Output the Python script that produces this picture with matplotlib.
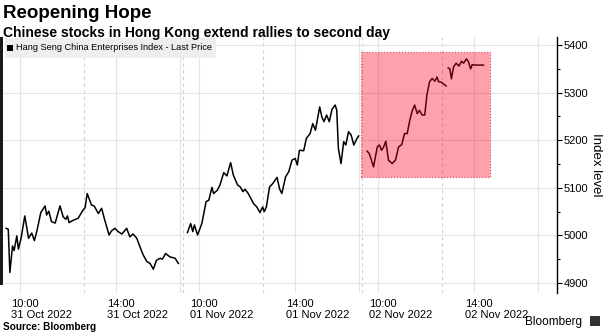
import matplotlib
matplotlib.use("Agg")
import matplotlib.pyplot as plt
import numpy as np
from matplotlib.patches import Rectangle
from matplotlib.transforms import ScaledTranslation

plt.rcParams['font.family'] = ['Liberation Sans', 'DejaVu Sans']

# session minutes (lunch removed) and index level, Hang Seng China Enterprises Index
oct31_min = [4, 8, 11, 16, 19, 24, 27, 32, 39, 46, 52, 57, 62, 69, 77, 80, 84, 89, 96, 105,
             111, 116, 119, 122, 130, 139, 148, 152, 156, 164, 169, 177, 183, 189, 197, 202, 208, 214, 221, 225,
             230, 236, 242, 249, 255, 261, 268, 274, 280, 286, 293, 297, 303, 311, 321, 327]
oct31_lvl = [5015, 5013, 4922, 4978, 4968, 4999, 4971, 4994, 5041, 4994, 5005, 4989, 5011, 5048, 5062, 5043, 5051, 5029, 5026, 5062,
             5039, 5034, 5041, 5027, 5032, 5036, 5053, 5058, 5088, 5064, 5062, 5046, 5057, 5032, 5001, 5010, 5015, 5008, 5003, 5008,
             5015, 4997, 5003, 4994, 4976, 4959, 4945, 4941, 4929, 4948, 4952, 4950, 4962, 4955, 4952, 4941]

nov01_min = [8, 14, 18, 21, 27, 35, 43, 48, 54, 57, 64, 69, 76, 82, 89, 94, 102, 107, 112, 116,
             122, 132, 138, 144, 149, 152, 156, 162, 168, 176, 181, 185, 192, 198, 204, 210, 214, 218, 226, 231,
             238, 243, 248, 256, 260, 264, 269, 274, 279, 285, 288, 291, 296, 301, 305, 310, 315, 320, 326, 329]
nov01_lvl = [5006, 5025, 5008, 5022, 5001, 5025, 5071, 5074, 5101, 5088, 5095, 5106, 5132, 5125, 5153, 5127, 5106, 5102, 5092, 5097,
             5088, 5067, 5060, 5048, 5060, 5050, 5060, 5102, 5109, 5122, 5097, 5088, 5123, 5134, 5158, 5162, 5148, 5179, 5178, 5204,
             5214, 5235, 5221, 5270, 5249, 5239, 5253, 5239, 5265, 5274, 5263, 5183, 5151, 5197, 5190, 5218, 5211, 5190, 5204, 5209]

nov02_am_min = [9, 13, 21, 28, 32, 36, 40, 44, 49, 56, 62, 68, 74, 79, 84, 89, 93, 98, 103, 107,
                112, 117, 121, 126, 131, 136, 140, 143, 148, 154, 157]
nov02_am_lvl = [5177, 5172, 5144, 5186, 5190, 5179, 5186, 5198, 5158, 5151, 5158, 5186, 5191, 5214, 5214, 5242, 5260, 5274, 5256, 5263,
                5253, 5253, 5295, 5323, 5330, 5324, 5333, 5323, 5322, 5317, 5314]
nov02_pm_min = [161, 164, 167, 171, 176, 181, 186, 190, 195, 199, 203, 206, 212, 227]
nov02_pm_lvl = [5352, 5350, 5329, 5354, 5362, 5356, 5366, 5362, 5371, 5365, 5350, 5359, 5358, 5358]

day_len = 336          # one session on the axis, in minutes
tick_min = [30, 210]   # 10:00 and 14:00
tick_labels = ["10:00\n31 Oct 2022", "14:00\n31 Oct 2022", "10:00\n01 Nov 2022",
               "14:00\n01 Nov 2022", "10:00\n02 Nov 2022", "14:00\n02 Nov 2022"]
y_ticks = [4900, 5000, 5100, 5200, 5300, 5400]

# highlighted window on 02 Nov (session minutes, index level)
hl_min = (-3, 239)
hl_lvl = (5123, 5385)

W, H = 603, 332
fig = plt.figure(figsize=(W / 100, H / 100), dpi=100)
ax = fig.add_axes([4 / W, 39 / H, 553 / W, 256 / H])

# grid
for d in range(3):
    off = d * day_len
    for m in [30, 210, 330]:
        ax.axvline(off + m, color='#e4e4e4', lw=0.8, zorder=1)
    for m in ([150] if d == 0 else [0, 150]):
        ax.axvline(off + m, color='#cfcfcf', lw=0.8, ls=(0, (3, 3)), zorder=1)
for y in y_ticks:
    ax.axhline(y, color='#e4e4e4', lw=0.8, zorder=1)

segments = [(0, oct31_min, oct31_lvl), (1, nov01_min, nov01_lvl),
            (2, nov02_am_min, nov02_am_lvl), (2, nov02_pm_min, nov02_pm_lvl)]
for d, mins, lvl in segments:
    ax.plot(np.array(mins) + d * day_len, lvl, color='black', lw=1.1, zorder=3)

ax.add_patch(Rectangle((2 * day_len + hl_min[0], hl_lvl[0]), hl_min[1] - hl_min[0], hl_lvl[1] - hl_lvl[0],
                       facecolor=(1, 0, 0.12, 0.37), edgecolor=(0.8, 0.15, 0.25, 0.8),
                       lw=0.8, ls=':', zorder=4))

ax.set_xlim(0, 1037)
ax.set_ylim(4879, 5417)

ax.yaxis.tick_right()
ax.set_yticks(y_ticks)
ax.set_yticks([4950, 5050, 5150, 5250, 5350], minor=True)
ax.tick_params(axis='y', which='major', length=3.5, width=0.8, labelsize=8, pad=1.5)
ax.tick_params(axis='y', which='minor', length=2, width=0.8)

xt = [d * day_len + m for d in range(3) for m in tick_min]
ax.set_xticks(xt)
ax.set_xticklabels(tick_labels)
ax.tick_params(axis='x', length=0, pad=4, labelsize=8)
for lab in ax.get_xticklabels():
    lab.set_horizontalalignment('left')
    lab.set_transform(lab.get_transform() + ScaledTranslation(-9 / 100, 0, fig.dpi_scale_trans))

for s in ['top', 'bottom', 'left']:
    ax.spines[s].set_visible(False)
ax.spines['right'].set_color('black')
ax.spines['right'].set_linewidth(1)

ax.text(1.071, 0.5, 'Index level', rotation=270, transform=ax.transAxes,
        ha='center', va='center', fontsize=9.5)

# legend box
fig.add_artist(Rectangle((5 / W, 1 - 57.5 / H), 211 / W, 19.5 / H, transform=fig.transFigure,
                         facecolor='#eeeeee', edgecolor='none'))
fig.add_artist(Rectangle((7 / W, 1 - 51 / H), 6 / W, 6 / H, transform=fig.transFigure,
                         facecolor='black', edgecolor='none'))
fig.text(15.5 / W, 1 - 48 / H, 'Hang Seng China Enterprises Index - Last Price',
         fontsize=6.6, va='center', ha='left')

# left border strip
fig.add_artist(Rectangle((0, 1 - 285 / H), 2.5 / W, 248 / H, transform=fig.transFigure,
                         facecolor='#1a1a1a', edgecolor='none'))

fig.text(3 / W, 1 - 18.5 / H, 'Reopening Hope', fontsize=13.5, fontweight='bold', va='baseline')
fig.text(3 / W, 1 - 36.5 / H, 'Chinese stocks in Hong Kong extend rallies to second day',
         fontsize=10, fontweight='bold', va='baseline')
fig.text(3 / W, 1 - 329.5 / H, 'Source: Bloomberg', fontsize=7.2, fontweight='bold', va='baseline')
fig.text(582 / W, 1 - 325 / H, 'Bloomberg', fontsize=8.5, ha='right', va='baseline')
fig.add_artist(Rectangle((590 / W, 1 - 326 / H), 10 / W, 10 / H, transform=fig.transFigure,
                         facecolor='#333333', edgecolor='none'))

fig.savefig('out.png', dpi=100)
